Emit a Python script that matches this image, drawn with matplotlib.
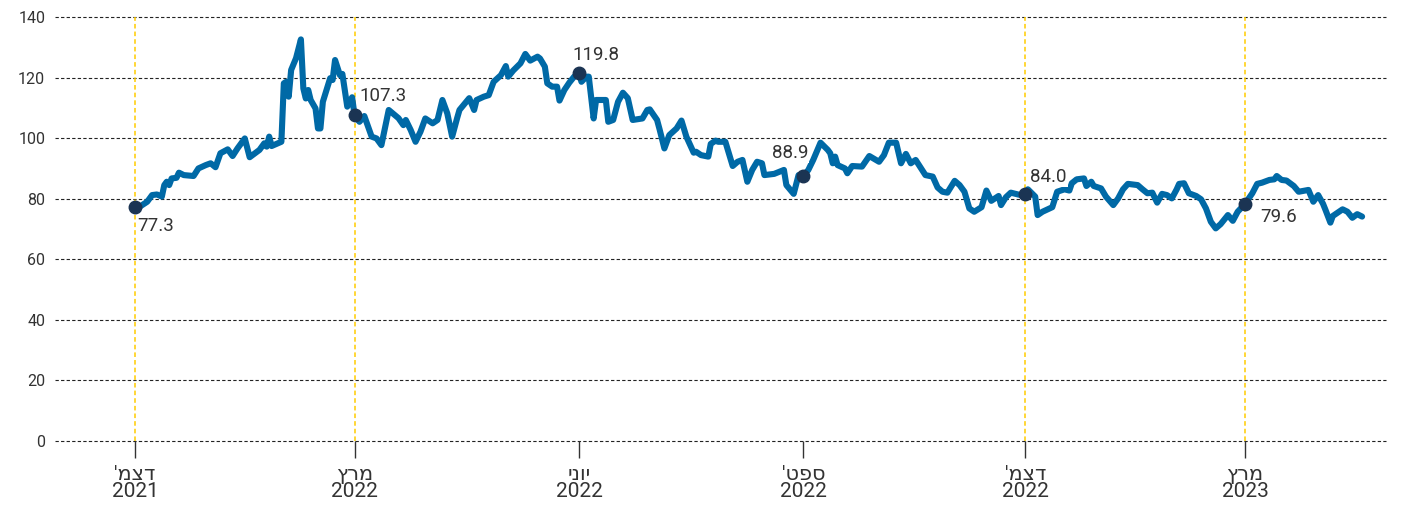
import numpy as np
import pandas as pd
import matplotlib
matplotlib.use("Agg")
import matplotlib.pyplot as plt

plt.rcParams["font.family"] = ["Roboto", "DejaVu Sans"]

# days since 2021-12-01 and values
start = pd.Timestamp("2021-12-01")
days = [
    0, 2, 5, 7, 9, 11, 12, 13, 14, 15, 17, 18, 20, 24, 26, 29, 31, 33, 35, 38,
    40, 42, 45, 47, 51, 53, 54, 55, 56, 60, 61, 62, 63, 64, 66, 68, 69, 70, 71, 72,
    74, 75, 76, 77, 80, 81, 82, 84, 85, 87, 89, 90, 92, 94, 97, 99, 101, 104, 108, 110,
    111, 113, 115, 117, 119, 122, 124, 126, 128, 130, 132, 133, 137, 139, 140, 143, 145, 147, 150, 152,
    153, 155, 158, 160, 162, 165, 166, 168, 169, 171, 173, 174, 176, 178, 180, 182, 183, 185, 186, 188,
    189, 193, 194, 196, 198, 200, 202, 204, 208, 210, 211, 214, 215, 217, 219, 222, 224, 226, 229, 230,
    232, 235, 236, 238, 239, 242, 245, 247, 249, 251, 253, 255, 257, 258, 262, 266, 267, 270, 272, 274,
    276, 278, 281, 284, 285, 286, 287, 288, 291, 292, 294, 298, 301, 305, 307, 309, 312, 314, 316, 318,
    320, 324, 327, 329, 331, 333, 336, 338, 340, 342, 344, 347, 349, 351, 354, 355, 357, 359, 363, 365,
    366, 369, 370, 372, 376, 378, 381, 383, 384, 386, 389, 390, 392, 393, 396, 398, 401, 403, 405, 407,
    411, 413, 415, 417, 419, 421, 423, 425, 427, 428, 430, 432, 435, 437, 439, 441, 443, 445, 448, 450,
    452, 454, 455, 458, 460, 462, 465, 467, 468, 470, 472, 475, 477, 481, 483, 485, 487, 488, 490, 491,
    495, 497, 499, 501, 503,
]
values = [
    77.3, 77.4, 79.0, 81.2, 81.4, 80.7, 84.5, 85.6, 84.5, 86.7, 86.9, 88.6, 87.8, 87.5, 90.0, 91.1, 91.7, 90.4, 95.0, 96.3,
    94.1, 96.6, 99.9, 93.7, 96.1, 98.3, 97.2, 100.5, 97.4, 98.8, 118.1, 118.6, 113.7, 122.5, 126.4, 132.6, 116.4, 113.1, 115.9, 112.6,
    109.8, 103.2, 103.2, 112.0, 119.8, 119.2, 125.8, 120.8, 121.2, 110.4, 113.5, 107.5, 105.4, 107.3, 100.5, 99.9, 97.7, 109.3, 106.6, 104.3,
    106.0, 102.7, 98.8, 102.1, 106.5, 104.9, 106.0, 112.6, 108.2, 100.5, 106.5, 109.3, 113.2, 109.3, 112.6, 113.7, 114.2, 118.6, 120.8, 123.8,
    120.3, 122.3, 124.7, 127.8, 125.6, 126.9, 126.3, 123.6, 118.1, 117.0, 117.0, 112.4, 115.9, 118.3, 120.3, 121.4, 118.6, 120.3, 120.3, 106.5,
    112.6, 112.6, 105.4, 106.0, 112.0, 115.0, 113.2, 106.0, 106.5, 109.3, 109.5, 106.0, 103.0, 96.6, 101.0, 103.2, 105.8, 100.5, 95.2, 95.5,
    94.4, 93.9, 98.1, 99.2, 98.8, 98.8, 90.8, 92.2, 92.8, 85.6, 89.5, 92.2, 91.7, 87.8, 88.2, 89.5, 84.5, 81.6, 87.8, 87.5,
    89.5, 92.8, 98.5, 96.1, 95.0, 91.7, 93.9, 91.1, 90.0, 88.4, 90.8, 90.6, 94.1, 92.2, 94.4, 98.5, 98.5, 91.7, 94.8, 91.7,
    92.8, 87.8, 87.3, 83.7, 82.3, 82.0, 85.9, 84.5, 82.3, 76.8, 75.7, 77.2, 82.7, 79.3, 80.9, 77.9, 80.5, 82.0, 81.2, 81.6,
    83.1, 80.7, 74.6, 75.7, 77.2, 82.3, 83.1, 82.7, 85.1, 86.4, 86.7, 84.2, 85.6, 84.2, 83.4, 80.7, 77.9, 80.1, 83.1, 84.9,
    84.5, 83.1, 81.8, 82.0, 78.7, 81.6, 81.2, 80.1, 83.1, 84.9, 85.1, 81.8, 80.9, 79.8, 76.8, 72.4, 70.2, 71.6, 74.6, 72.7,
    75.7, 77.4, 78.3, 81.8, 84.9, 85.3, 86.2, 86.4, 87.5, 86.2, 86.0, 84.2, 82.3, 82.9, 79.0, 81.2, 78.3, 76.3, 72.1, 74.3,
    76.5, 75.7, 73.7, 74.9, 74.1,
]

tick_dates = ["2021-12-01", "2022-03-01", "2022-06-01", "2022-09-01", "2022-12-01", "2023-03-01"]
tick_months = ["דצמ'", "מרץ", "יוני", "ספט'", "דצמ'", "מרץ"]
tick_years = ["2021", "2022", "2022", "2022", "2022", "2023"]
vline_dates = ["2021-12-01", "2022-03-01", "2022-12-01", "2023-03-01"]

ann_dates = ["2021-12-01", "2022-03-01", "2022-06-01", "2022-09-01", "2022-12-01", "2023-03-01"]
ann_labels = ["77.3", "107.3", "119.8", "88.9", "84.0", "79.6"]
ann_offsets = [(2, -19), (5, 19), (-7, 18), (5, 23), (5, 17), (15, -13)]
ann_align = ["left", "left", "left", "right", "left", "left"]

dates = start + pd.to_timedelta(days, unit="D")
series = pd.Series(values, index=dates)

fig = plt.figure(figsize=(14.26, 5.05), dpi=100)
ax = fig.add_axes([55 / 1426, 64 / 505, 1331 / 1426, 424 / 505])

text_color = "#333333"

ax.set_ylim(0, 140)
ax.set_xlim(start - pd.Timedelta(days=32.8), start + pd.Timedelta(days=512.8))

for y in range(0, 141, 20):
    ax.axhline(y, color="#222222", linewidth=0.8, linestyle=(0, (3, 2)),
               zorder=1, clip_on=False)

for d in vline_dates:
    ax.axvline(pd.Timestamp(d), color="#ffcc00", linewidth=1.1,
               linestyle=(0, (3, 2)), zorder=1)

ax.plot(series.index, series.values, color="#0069a6", linewidth=4.4,
        solid_joinstyle="round", solid_capstyle="round", zorder=3)

for d, label, off, ha in zip(ann_dates, ann_labels, ann_offsets, ann_align):
    t = pd.Timestamp(d)
    v = series[t]
    ax.plot([t], [v], "o", color="#1b3453", markersize=9, zorder=4)
    ax.annotate(label, (t, v), xytext=off, textcoords="offset pixels",
                ha=ha, va="center", fontsize=13.5, color=text_color, zorder=5,
                bbox=dict(boxstyle="square,pad=0.05", fc="white", ec="none"))

for s in ax.spines.values():
    s.set_visible(False)

ax.set_yticks(range(0, 141, 20))
ax.tick_params(axis="y", length=0, pad=7, labelsize=11.5, labelcolor=text_color)

ax.set_xticks([pd.Timestamp(d) for d in tick_dates])
ax.set_xticklabels([f"{m[::-1]}\n{y}" for m, y in zip(tick_months, tick_years)],
                   linespacing=0.9)
ax.tick_params(axis="x", length=12, width=1, color="#333333", pad=5,
               labelsize=15, labelcolor=text_color)

fig.savefig("out.png", dpi=100)
